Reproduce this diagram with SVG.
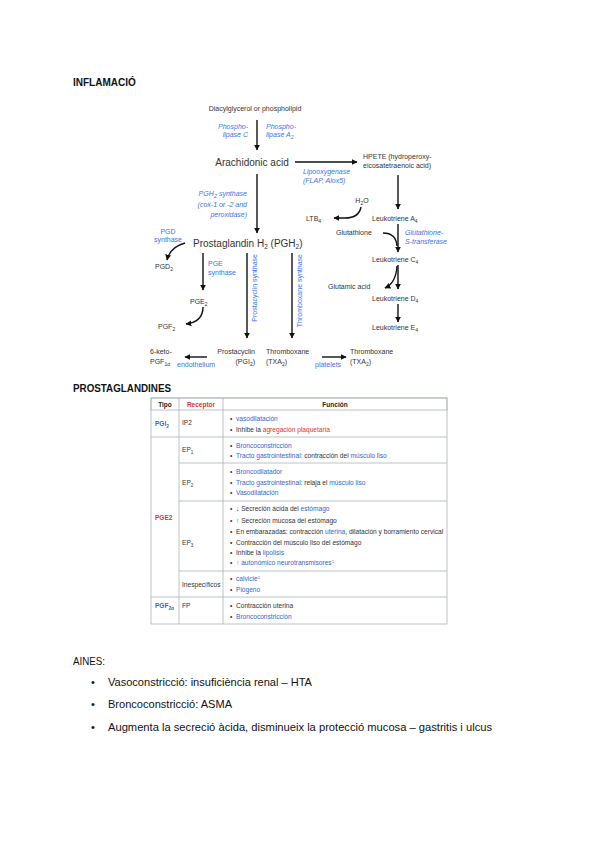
<svg xmlns="http://www.w3.org/2000/svg" width="599" height="848" viewBox="0 0 599 848">
<style>
text{font-family:"Liberation Sans",Arial,sans-serif;fill:#222}
.h{font-weight:bold;font-size:10px;fill:#111}
.s7{font-size:7px;fill:#333}
.big{font-size:10px;fill:#333}
.bi{font-size:7px;fill:#3a73e8;font-style:italic}
.bn{font-size:7px;fill:#3a73e8}
.tb{font-size:6.6px;fill:#333}
.th{font-weight:bold;font-size:6.5px;fill:#222}
.body{font-size:11px;fill:#111}
.lk{fill:#3366cc}
.rd{fill:#d33}
.cn{stroke:#111;stroke-width:1.4;fill:none}
.grid{stroke:#a2a9b1;stroke-width:0.7;fill:none}
</style>
<defs>
<marker id="ah" viewBox="0 0 10 10" refX="9" refY="5" markerWidth="6" markerHeight="6" markerUnits="userSpaceOnUse" orient="auto">
<path d="M0,0 L10,5 L0,10 z" fill="#111"/>
</marker>
</defs>

<text x="73" y="86" class="h">INFLAMACIÓ</text>
<text x="73" y="392" class="h" textLength="98" lengthAdjust="spacingAndGlyphs">PROSTAGLANDINES</text>

<g id="connectors" class="cn">
<path d="M257,120 L257,150" marker-end="url(#ah)"/>
<path d="M295,162 L357,162" marker-end="url(#ah)"/>
<path d="M257,174 L257,233" marker-end="url(#ah)"/>
<path d="M398,175 L398,209" marker-end="url(#ah)"/>
<path d="M361,207 Q359,218 345,218 L334,218" marker-end="url(#ah)"/>
<path d="M398,224 L398,252" marker-end="url(#ah)"/>
<path d="M383,233 Q396,233 397,246"/>
<path d="M398,265 L398,289" marker-end="url(#ah)"/>
<path d="M397,266 Q396,283 385,288" marker-end="url(#ah)"/>
<path d="M398,304 L398,322" marker-end="url(#ah)"/>
<path d="M185,243 Q170,247 167,260" marker-end="url(#ah)"/>
<path d="M203,253 L203,290" marker-end="url(#ah)"/>
<path d="M203,307 Q203,322 186,324" marker-end="url(#ah)"/>
<path d="M247,253 L247,338" marker-end="url(#ah)"/>
<path d="M292,253 L292,338" marker-end="url(#ah)"/>
<path d="M207,357 L185,357" marker-end="url(#ah)"/>
<path d="M322,357 L346,357" marker-end="url(#ah)"/>
</g>

<g id="n-dag"><text x="255" y="111" class="s7" text-anchor="middle">Diacylglycerol or phospholipid</text></g>
<g id="n-plc"><text x="248" y="129" class="bi" text-anchor="end">Phospho-</text><text x="248" y="137" class="bi" text-anchor="end">lipase C</text></g>
<g id="n-pla2"><text x="266" y="129" class="bi">Phospho-</text><text x="266" y="137" class="bi">lipase A<tspan font-size="5" dy="1.5">2</tspan></text></g>
<g id="n-aa"><text x="252" y="166" class="big" text-anchor="middle">Arachidonic acid</text></g>
<g id="n-hpete"><text x="363" y="159" class="s7">HPETE (hydroperoxy-</text><text x="363" y="168" class="s7">eicosatetraenoic acid)</text></g>
<g id="n-lox"><text x="303" y="174" class="bi">Lipooxygenase</text><text x="303" y="183" class="bi">(FLAP, Alox5)</text></g>
<g id="n-pghs"><text x="247" y="196" class="bi" font-size="8.5" text-anchor="end">PGH<tspan font-size="6" dy="1.5">2</tspan><tspan dy="-1.5"> synthase</tspan></text><text x="247" y="207" class="bi" font-size="8.5" text-anchor="end">(cox-1 or -2 and</text><text x="247" y="217" class="bi" font-size="8.5" text-anchor="end">peroxidase)</text></g>
<g id="n-h2o"><text x="362" y="203" class="s7" text-anchor="middle">H<tspan font-size="5" dy="1.5">2</tspan><tspan dy="-1.5">O</tspan></text></g>
<g id="n-ltb4"><text x="306" y="221" class="s7">LTB<tspan font-size="5" dy="1.5">4</tspan></text></g>
<g id="n-lta4"><text x="372" y="221" class="s7">Leukotriene A<tspan font-size="5" dy="1.5">4</tspan></text></g>
<g id="n-glut"><text x="336" y="235" class="s7">Glutathione</text></g>
<g id="n-gst"><text x="405" y="235" class="bi">Glutathione-</text><text x="405" y="244" class="bi">S-transferase</text></g>
<g id="n-ltc4"><text x="372" y="262" class="s7">Leukotriene C<tspan font-size="5" dy="1.5">4</tspan></text></g>
<g id="n-glu"><text x="328" y="289" class="s7">Glutamic acid</text></g>
<g id="n-ltd4"><text x="372" y="301" class="s7">Leukotriene D<tspan font-size="5" dy="1.5">4</tspan></text></g>
<g id="n-lte4"><text x="372" y="330" class="s7">Leukotriene E<tspan font-size="5" dy="1.5">4</tspan></text></g>
<g id="n-pgh2"><text x="193" y="247" class="big">Prostaglandin H<tspan font-size="6.5" dy="2">2</tspan><tspan dy="-2"> (PGH</tspan><tspan font-size="6.5" dy="2">2</tspan><tspan dy="-2">)</tspan></text></g>
<g id="n-pgds"><text x="168" y="234" class="bn" text-anchor="middle">PGD</text><text x="168" y="242" class="bn" text-anchor="middle">synthase</text></g>
<g id="n-pgd2"><text x="155" y="269" class="s7">PGD<tspan font-size="5" dy="1.5">2</tspan></text></g>
<g id="n-pges"><text x="208" y="266" class="bn">PGE</text><text x="208" y="275" class="bn">synthase</text></g>
<g id="n-pge2"><text x="190" y="304" class="s7">PGE<tspan font-size="5" dy="1.5">2</tspan></text></g>
<g id="n-pgf2"><text x="158" y="329" class="s7">PGF<tspan font-size="5" dy="1.5">2</tspan></text></g>
<g id="n-pcs"><text transform="translate(257,254) rotate(-90)" class="bn" text-anchor="end">Prostacyclin synthase</text></g>
<g id="n-txs"><text transform="translate(302,254) rotate(-90)" class="bn" text-anchor="end">Thromboxane synthase</text></g>
<g id="n-keto"><text x="150" y="354" class="s7">6-keto-</text><text x="150" y="364" class="s7">PGF<tspan font-size="5" dy="1.5">1α</tspan></text></g>
<g id="n-endo"><text x="177" y="367" class="bn">endothelium</text></g>
<g id="n-pgi2"><text x="255" y="354" class="s7" text-anchor="end">Prostacyclin</text><text x="255" y="364" class="s7" text-anchor="end">(PGI<tspan font-size="5" dy="1.5">2</tspan><tspan dy="-1.5">)</tspan></text></g>
<g id="n-txa2a"><text x="266" y="354" class="s7">Thromboxane</text><text x="266" y="364" class="s7">(TXA<tspan font-size="5" dy="1.5">2</tspan><tspan dy="-1.5">)</tspan></text></g>
<g id="n-plat"><text x="315" y="367" class="bn">platelets</text></g>
<g id="n-txa2b"><text x="350" y="354" class="s7">Thromboxane</text><text x="350" y="364" class="s7">(TXA<tspan font-size="5" dy="1.5">2</tspan><tspan dy="-1.5">)</tspan></text></g>

<g id="table">
<rect x="151" y="398" width="296" height="226" fill="#f8f9fa" class="grid"/>
<rect x="151" y="398" width="296" height="12" fill="#eaecf0" class="grid"/>
<path class="grid" d="M179,398 V624 M223,398 V624 M151,437 H447 M179,463 H447 M179,501 H447 M179,571 H447 M151,597 H447"/>
<text x="165" y="406.5" class="th" text-anchor="middle">Tipo</text>
<text x="201" y="406.5" class="th rd" text-anchor="middle">Receptor</text>
<text x="335" y="406.5" class="th" text-anchor="middle">Función</text>

<text x="155" y="426" class="th lk">PGI<tspan font-size="4.8" dy="1.5">2</tspan></text>
<text x="155" y="520" class="th rd">PGE2</text>
<text x="155" y="608" class="th lk">PGF<tspan font-size="4.8" dy="1.5">2α</tspan></text>

<text x="182" y="425" class="tb">IP2</text>
<text x="182" y="452" class="tb">EP<tspan font-size="4.6" dy="1.5">1</tspan></text>
<text x="182" y="485" class="tb">EP<tspan font-size="4.6" dy="1.5">2</tspan></text>
<text x="182" y="545" class="tb">EP<tspan font-size="4.6" dy="1.5">3</tspan></text>
<text x="182" y="587" class="tb">Inespecíficos</text>
<text x="182" y="608" class="tb">FP</text>

<g>
<text x="230" y="421" class="tb">•</text><text x="236" y="421" class="tb lk">vasodilatación</text>
<text x="230" y="432" class="tb">•</text><text x="236" y="432" class="tb">Inhibe la <tspan class="rd">agregación plaquetaria</tspan></text>
<text x="230" y="448" class="tb">•</text><text x="236" y="448" class="tb lk">Broncoconstricción</text>
<text x="230" y="458" class="tb">•</text><text x="236" y="458" class="tb"><tspan class="lk">Tracto gastrointestinal</tspan>: contracción del <tspan class="lk">músculo liso</tspan></text>
<text x="230" y="474" class="tb">•</text><text x="236" y="474" class="tb lk">Broncodilatador</text>
<text x="230" y="485" class="tb">•</text><text x="236" y="485" class="tb"><tspan class="lk">Tracto gastrointestinal</tspan>: relaja el <tspan class="lk">músculo liso</tspan></text>
<text x="230" y="495" class="tb">•</text><text x="236" y="495" class="tb lk">Vasodilatación</text>
<text x="230" y="511" class="tb">•</text><text x="236" y="511" class="tb">↓ Secreción ácida del <tspan class="lk">estómago</tspan></text>
<text x="230" y="523" class="tb">•</text><text x="236" y="523" class="tb">↑ Secreción mucosa del estómago</text>
<text x="230" y="534" class="tb">•</text><text x="236" y="534" class="tb">En embarazadas: contracción <tspan class="lk">uterina</tspan>, dilatación y borramiento cervical</text>
<text x="230" y="545" class="tb">•</text><text x="236" y="545" class="tb">Contracción del músculo liso del estómago</text>
<text x="230" y="555" class="tb">•</text><text x="236" y="555" class="tb">Inhibe la <tspan class="lk">lipolisis</tspan></text>
<text x="230" y="565" class="tb">•</text><text x="236" y="565" class="tb lk">↑ autonómico neurotransmisores<tspan font-size="4.4" dy="-2.5">1</tspan></text>
<text x="230" y="581" class="tb">•</text><text x="236" y="581" class="tb lk">calvicie<tspan font-size="4.4" dy="-2.5">1</tspan></text>
<text x="230" y="592" class="tb">•</text><text x="236" y="592" class="tb lk">Piógeno</text>
<text x="230" y="608" class="tb">•</text><text x="236" y="608" class="tb">Contracción uterina</text>
<text x="230" y="619" class="tb">•</text><text x="236" y="619" class="tb lk">Broncoconstricción</text>
</g>
</g>

<g id="aines">
<text x="73" y="665" class="body" textLength="32" lengthAdjust="spacingAndGlyphs">AINES:</text>
<text x="91" y="686" class="body">•</text>
<text x="108" y="686" class="body" textLength="204" lengthAdjust="spacingAndGlyphs">Vasoconstricció: insuficiència renal – HTA</text>
<text x="91" y="708" class="body">•</text>
<text x="108" y="708" class="body" textLength="124" lengthAdjust="spacingAndGlyphs">Broncoconstricció: ASMA</text>
<text x="91" y="731" class="body">•</text>
<text x="108" y="731" class="body" textLength="384" lengthAdjust="spacingAndGlyphs">Augmenta la secreció àcida, disminueix la protecció mucosa – gastritis i ulcus</text>
</g>
</svg>
